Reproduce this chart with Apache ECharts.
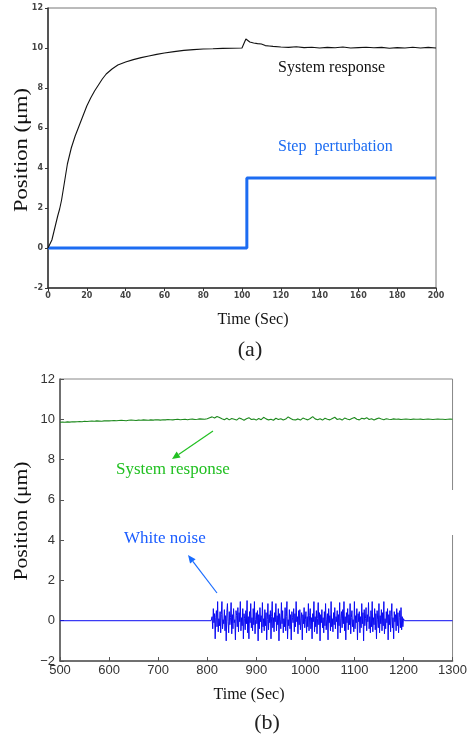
<!DOCTYPE html>
<html>
  <head>
    <meta charset="UTF-8">
    <title>Step perturbation and white noise</title>
    <script src="https://cdn.jsdelivr.net/npm/echarts@6/dist/echarts.min.js"></script>
    <style>
      html, body { margin: 0; padding: 0; background: #fff; }
      #main { width: 470px; height: 742px; }
    </style>
  </head>
  <body>
    <div id="main"></div>
    <script>
      // (a) step perturbation test
      var timeA = [0,1,2,3,4,5,6,7,8,9,10,12,14,16,18,20,22,24,26,28,30,33,36,40,44,48,52,56,60,65,70,75,80,85,90,95,100,101,102,103,104,106,108,110,112,114,
        116,120,124,128,132,136,140,144,148,152,156,160,164,168,172,176,180,184,188,192,196,200];
      var respA = [0,0.05,0.4,0.8,1.2,1.6,1.95,2.4,3.0,3.6,4.2,5.0,5.6,6.1,6.6,7.1,7.5,7.85,8.15,8.45,8.7,8.95,9.15,9.3,9.42,9.52,9.6,9.68,9.75,9.82,9.88,9.92,9.95,9.96,9.98,9.99,10.0,10.0,10.45,10.42,10.3,10.25,10.22,10.2,10.12,10.1,
        10.08,10.05,10.03,10.06,10.02,10.04,10.0,10.03,10.01,10.05,10.0,10.02,10.04,10.01,10.03,9.99,10.02,10.0,10.04,10.0,10.03,10.0];
      var stepT = [0, 102.5, 102.5, 200];
      var stepV = [0, 0, 3.5, 3.5];

      // (b) white noise test
      var respStartB = 500, respStepB = 5;
      var respB = [
        9.85,9.86,9.85,9.87,9.86,9.88,9.87,9.88,9.89,9.88,
        9.90,9.89,9.90,9.91,9.90,9.92,9.91,9.90,9.92,9.93,
        9.92,9.93,9.94,9.93,9.94,9.95,9.94,9.93,9.95,9.96,
        9.95,9.94,9.96,9.95,9.97,9.96,9.95,9.97,9.96,9.98,
        9.97,9.96,9.98,9.97,9.99,9.98,9.97,9.99,10.0,9.98,
        9.99,10.0,9.98,10.0,10.01,9.99,10.0,10.02,10.01,10.0,
        10.03,10.08,10.12,10.06,10.14,10.09,10.03,9.98,10.05,9.97,
        10.04,10.0,9.96,10.06,10.02,9.95,10.03,10.08,9.99,10.01,
        9.96,10.04,9.98,10.1,10.02,9.97,10.0,9.95,10.05,9.99,
        10.03,9.96,10.01,10.12,10.04,9.98,9.97,10.02,9.96,10.06,
        10.01,9.97,10.04,10.13,10.02,9.98,10.03,9.96,10.05,10.0,
        9.97,10.04,10.1,9.99,10.03,9.96,10.06,10.01,9.98,10.04,
        10.09,10.0,9.97,10.05,10.02,10.08,9.99,10.03,9.97,10.02,
        10.06,10.01,9.98,10.03,10.0,9.99,10.02,10.0,10.01,9.99,
        10.0,10.01,10.0,9.99,10.01,10.0,10.0,10.01,9.99,10.0,
        10.01,10.0,9.99,10.0,10.01,10.0,10.0,9.99,10.0,10.01,10.0
      ];
      var noiseStart = 810, noiseStep = 1.25;
      var noiseV = [
        0.2,-0.4,0.6,-0.1,0.35,-0.9,0.15,0.5,-0.3,0.95,-0.55,0.1,-0.25,0.45,-0.6,0.3,0.95,-0.4,0.05,-0.15,
        0.55,-0.5,0.25,-1.0,0.4,0.85,-0.05,-0.6,0.45,-0.2,0.15,0.9,-0.65,0.3,-0.4,0.6,-0.1,0.05,-0.95,0.5,
        0.25,-0.3,0.65,-0.55,0.4,-0.05,0.95,-0.5,0.15,-0.25,0.6,-0.9,0.35,0.1,-0.45,0.5,-0.15,1.0,-0.6,0.2,
        -0.9,0.45,-0.1,0.85,-0.35,0.15,-0.5,0.6,-0.2,0.95,-0.65,0.05,0.4,-0.15,0.5,-1.0,0.3,-0.4,0.65,-0.05,
        0.25,-0.6,0.9,-0.3,0.1,-0.5,0.55,-0.25,0.4,-0.95,0.05,0.85,-0.45,0.3,-0.1,0.5,-0.9,0.2,0.95,-0.35,
        0.15,-0.55,0.4,-0.05,0.85,-0.5,0.25,-0.2,0.6,-1.0,0.35,0.05,-0.4,0.9,-0.15,0.5,-0.6,0.1,-0.3,0.65,
        -0.5,0.2,0.95,-0.9,0.05,-0.25,0.55,-0.4,0.3,-0.95,0.45,0.15,-0.1,0.6,-0.55,0.35,-0.3,0.95,-0.05,0.2,
        -0.65,0.5,-0.2,0.55,-0.45,0.1,0.4,-0.95,0.3,-0.15,0.65,-0.35,0.05,0.45,-0.6,0.2,-0.3,0.85,-0.5,0.25,
        0.6,-0.4,0.15,-0.9,0.35,-0.05,0.95,-0.55,0.2,-0.3,0.5,-0.65,0.1,0.9,-0.2,0.4,-1.0,0.3,-0.1,0.55,
        -0.35,0.15,-0.6,0.45,-0.25,0.85,-0.45,0.05,0.35,-0.95,0.6,-0.1,0.25,-0.5,0.95,-0.3,0.1,-0.55,0.4,-0.2,
        0.65,-0.4,0.2,-0.05,0.5,-0.9,0.3,-0.25,0.9,-0.6,0.1,0.45,-0.35,0.55,-0.15,0.95,-0.5,0.2,-0.95,0.4,
        -0.1,0.6,-0.45,0.3,-0.2,0.85,-0.65,0.15,0.5,-0.3,0.05,-0.55,0.95,-0.4,0.25,-0.1,0.6,-0.95,0.35,-0.05,
        0.45,-0.6,0.2,-0.35,0.85,-0.15,0.4,-1.0,0.55,-0.25,0.1,0.65,-0.5,0.3,-0.05,0.9,-0.4,0.2,-0.6,0.5,
        -0.3,0.95,-0.55,0.15,-0.2,0.6,-0.45,0.35,-0.9,0.5,0.05,-0.35,0.85,-0.6,0.25,-0.15,0.55,-0.5,0.4,-0.25,
        0.95,-0.65,0.1,-0.4,0.45,-0.1,0.6,-0.95,0.3,-0.2,0.5,-0.55,0.2,0.85,-0.35,0.15,-0.9,0.45,-0.05,0.3,
        -0.5,0.6,-0.25,0.4,-0.6,0.15,0.5,-0.35,0.65,-0.45,0.2,-0.3,0.1
      ];
      var quietT = [500, 808, 1202, 1300];  // flat zero parts of the noise input

      var serif = '"Liberation Serif", "DejaVu Serif", serif';

      var respAData = timeA.map(function (t, i) { return [t, respA[i]]; });
      var stepData = stepT.map(function (t, i) { return [t, stepV[i]]; });
      var respBData = respB.map(function (v, i) { return [respStartB + i * respStepB, v]; });
      var noiseData = [[quietT[0], 0], [quietT[1], 0]];
      noiseV.forEach(function (v, i) { noiseData.push([noiseStart + i * noiseStep, v]); });
      noiseData.push([quietT[2], 0], [quietT[3], 0]);

      var smallTick = { fontSize: 8, fontWeight: 'bold', color: '#444', fontFamily: '"DejaVu Sans", sans-serif' };
      var sansTick = { fontSize: 13, color: '#333', fontFamily: '"Liberation Sans", Arial, sans-serif' };

      function arrow(x1, y1, x2, y2, color) {
        var a = Math.atan2(y2 - y1, x2 - x1), L = 8, W = 3.5;
        var bx = x2 - L * Math.cos(a), by = y2 - L * Math.sin(a);
        var px = -Math.sin(a) * W, py = Math.cos(a) * W;
        return [
          { type: 'line', shape: { x1: x1, y1: y1, x2: bx, y2: by }, style: { stroke: color, lineWidth: 1.2 } },
          { type: 'polygon', shape: { points: [[x2, y2], [bx + px, by + py], [bx - px, by - py]] }, style: { fill: color } }
        ];
      }

      var chart = echarts.init(document.getElementById('main'));
      var option = {
        animation: false,
        backgroundColor: '#fff',
        grid: [
          { left: 48, top: 8, width: 388, height: 280, show: true, borderColor: '#777', borderWidth: 1 },
          { left: 60, top: 379, width: 396, height: 282, show: true, borderColor: '#888', borderWidth: 1 }
        ],
        xAxis: [
          { gridIndex: 0, type: 'value', min: 0, max: 200, interval: 20,
            axisLine: { onZero: false, lineStyle: { color: '#333', width: 1.5 } },
            axisTick: { length: 3, lineStyle: { color: '#333' } },
            axisLabel: Object.assign({ margin: 4 }, smallTick),
            splitLine: { show: false } },
          { gridIndex: 1, type: 'value', min: 500, max: 1300, interval: 100,
            axisLine: { onZero: false, lineStyle: { color: '#555', width: 1.5 } },
            axisTick: { inside: true, length: 4, lineStyle: { color: '#555' } },
            axisLabel: Object.assign({ margin: 3, formatter: function (v) { return String(v); } }, sansTick),
            splitLine: { show: false } }
        ],
        yAxis: [
          { gridIndex: 0, type: 'value', min: -2, max: 12, interval: 2,
            axisLine: { show: true, onZero: false, lineStyle: { color: '#333', width: 1.5 } },
            axisTick: { show: true, length: 3, lineStyle: { color: '#333' } },
            axisLabel: Object.assign({ margin: 5 }, smallTick),
            splitLine: { show: false } },
          { gridIndex: 1, type: 'value', min: -2, max: 12, interval: 2,
            axisLine: { show: true, onZero: false, lineStyle: { color: '#555', width: 1.5 } },
            axisTick: { show: true, inside: true, length: 4, lineStyle: { color: '#555' } },
            axisLabel: Object.assign({ margin: 5, formatter: function (v) { return String(v).replace('-', '\u2212'); } }, sansTick),
            splitLine: { show: false } }
        ],
        series: [
          { name: 'Step perturbation', type: 'line', xAxisIndex: 0, yAxisIndex: 0, data: stepData,
            showSymbol: false, lineStyle: { color: '#1c6cf2', width: 3 } },
          { name: 'System response', type: 'line', xAxisIndex: 0, yAxisIndex: 0, data: respAData,
            showSymbol: false, lineStyle: { color: '#111', width: 1.1 } },
          { name: 'White noise', type: 'line', xAxisIndex: 1, yAxisIndex: 1, data: noiseData,
            showSymbol: false, lineStyle: { color: '#0a0af2', width: 1 } },
          { name: 'System response (b)', type: 'line', xAxisIndex: 1, yAxisIndex: 1, data: respBData,
            showSymbol: false, lineStyle: { color: '#1f8a1f', width: 1.1 } }
        ],
        graphic: [
          // gap in the right frame of (b)
          { type: 'rect', shape: { x: 255, y: 490, width: 204, height: 45 }, style: { fill: '#fff' }, z: 100 },
          { type: 'text', x: 278, y: 68, style: { text: 'System response', font: '16px ' + serif, fill: '#111', textVerticalAlign: 'middle' } },
          { type: 'text', x: 278, y: 147, style: { text: 'Step  perturbation', font: '16px ' + serif, fill: '#1c6cf2', textVerticalAlign: 'middle' } },
          { type: 'text', x: 22, y: 150, rotation: Math.PI / 2, scaleX: 1.25, style: { text: 'Position (\u03bcm)', font: '18px ' + serif, fill: '#111', textAlign: 'center', textVerticalAlign: 'middle' } },
          { type: 'text', x: 253, y: 320, style: { text: 'Time (Sec)', font: '16px ' + serif, fill: '#111', textAlign: 'center', textVerticalAlign: 'middle' } },
          { type: 'text', x: 250, y: 350, style: { text: '(a)', font: '22px ' + serif, fill: '#222', textAlign: 'center', textVerticalAlign: 'middle' } },

          { type: 'text', x: 116, y: 470, style: { text: 'System response', font: '17px ' + serif, fill: '#22c022', textVerticalAlign: 'middle' } },
          { type: 'text', x: 124, y: 539, style: { text: 'White noise', font: '17px ' + serif, fill: '#1a5cff', textVerticalAlign: 'middle' } },
          { type: 'text', x: 22, y: 521, rotation: Math.PI / 2, scaleX: 1.2, style: { text: 'Position (\u03bcm)', font: '18px ' + serif, fill: '#111', textAlign: 'center', textVerticalAlign: 'middle' } },
          { type: 'text', x: 249, y: 695, style: { text: 'Time (Sec)', font: '16px ' + serif, fill: '#111', textAlign: 'center', textVerticalAlign: 'middle' } },
          { type: 'text', x: 267, y: 723, style: { text: '(b)', font: '22px ' + serif, fill: '#222', textAlign: 'center', textVerticalAlign: 'middle' } }
        ].concat(arrow(213, 431, 172, 459, '#22c022'), arrow(217, 593, 188, 555, '#1a6cff'))
      };
      chart.setOption(option);
    </script>
  </body>
</html>
